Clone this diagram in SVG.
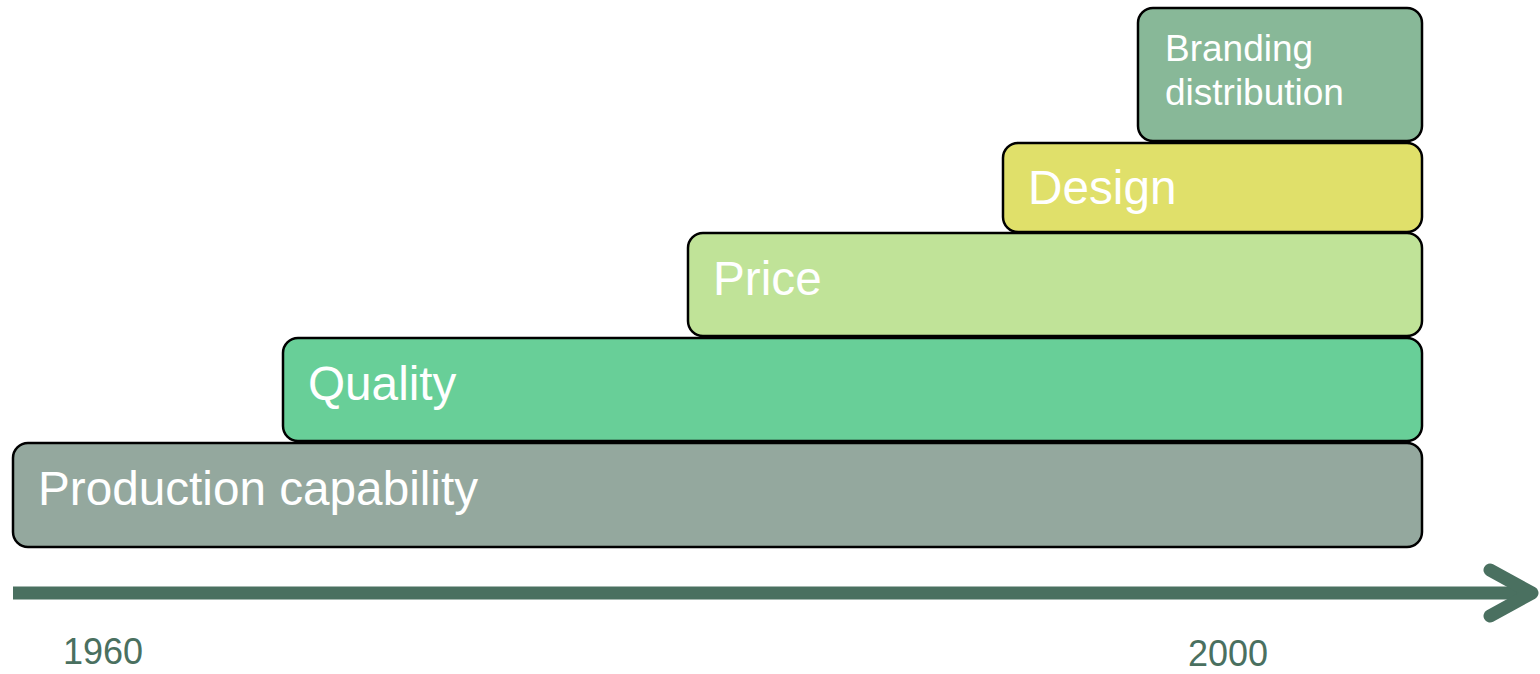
<svg xmlns="http://www.w3.org/2000/svg" width="1540" height="674" viewBox="0 0 1540 674">
<style>
.box{stroke:#000;stroke-width:2.5}
.lbl{font-family:"Liberation Sans",Arial,sans-serif;fill:#fff;font-size:47.7px}
.sm{font-size:37px}
.yr{font-family:"Liberation Sans",Arial,sans-serif;fill:#4a7060;font-size:36px}
.ax{stroke:#4a7060;stroke-width:13;fill:none;stroke-linecap:round;stroke-linejoin:round}
</style>
<rect width="1540" height="674" fill="#fff"/>
<g id="production">
<rect class="box" x="13" y="443" width="1409" height="104" rx="15" fill="#94a89e"/>
<text class="lbl" x="38" y="505">Production capability</text>
</g>
<g id="quality">
<rect class="box" x="283" y="338" width="1139" height="103" rx="15" fill="#68cf98"/>
<text class="lbl" x="308" y="400">Quality</text>
</g>
<g id="price">
<rect class="box" x="688" y="233" width="734" height="103" rx="15" fill="#c0e398"/>
<text class="lbl" x="713" y="295">Price</text>
</g>
<g id="design">
<rect class="box" x="1003" y="143" width="419" height="89" rx="15" fill="#e0e06a"/>
<text class="lbl" x="1028" y="204">Design</text>
</g>
<g id="branding">
<rect class="box" x="1138" y="8" width="284" height="133" rx="15" fill="#88b898"/>
<text class="lbl sm" x="1165" y="61">Branding</text>
<text class="lbl sm" x="1165" y="105">distribution</text>
</g>
<g id="connectors">
<line class="ax" x1="13" y1="593" x2="1532" y2="593" style="stroke-linecap:butt"/>
<polyline class="ax" points="1490,570 1532,593 1490,616"/>
</g>
<g id="labels">
<text class="yr" x="63" y="664">1960</text>
<text class="yr" x="1188" y="666">2000</text>
</g>
</svg>
